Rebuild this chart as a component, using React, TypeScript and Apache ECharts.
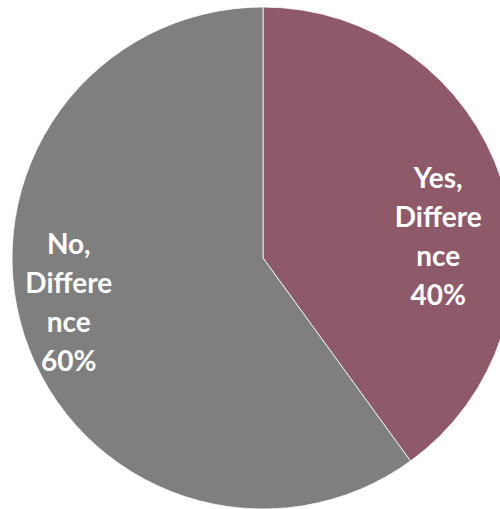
import React, { useEffect, useRef } from "react";
import * as echarts from "echarts";

const categories = ["Yes, Difference", "No, Difference"];
const values = [40, 60];
const colors = ["#8E5A6A", "#7F7F7F"];
const labelShift = [
  [53, 17],
  [-72, 4],
];

export default function App() {
  const ref = useRef<HTMLDivElement>(null);
  useEffect(() => {
    document.body.style.margin = "0";
    const chart = echarts.init(ref.current!, null, { renderer: "svg" });
    const total = values.reduce((a, b) => a + b, 0);
    chart.setOption({
      animation: false,
      backgroundColor: "#ffffff",
      series: [
        {
          type: "pie",
          center: [263, 258],
          radius: 251,
          startAngle: 90,
          clockwise: true,
          silent: true,
          itemStyle: { borderColor: "#ffffff", borderWidth: 0.8 },
          label: {
            show: true,
            position: "inside",
            color: "#ffffff",
            fontFamily: "Lato",
            fontWeight: "bold",
            fontSize: 28,
            lineHeight: 39,
            align: "center",
            formatter: (p: any) =>
              p.name.replace(", ", ",\n").replace("Difference", "Differe\nnce") +
              "\n" +
              Math.round((p.value / total) * 100) +
              "%",
          },
          labelLine: { show: false },
          labelLayout: (p: any) => ({
            dx: labelShift[p.dataIndex][0],
            dy: labelShift[p.dataIndex][1],
          }),
          data: categories.map((name, i) => ({
            name,
            value: values[i],
            itemStyle: { color: colors[i] },
          })),
        },
      ],
    });
    return () => chart.dispose();
  }, []);
  return (
    <div
      ref={ref}
      style={{ position: "absolute", left: 0, top: 0, width: 500, height: 509 }}
    />
  );
}
